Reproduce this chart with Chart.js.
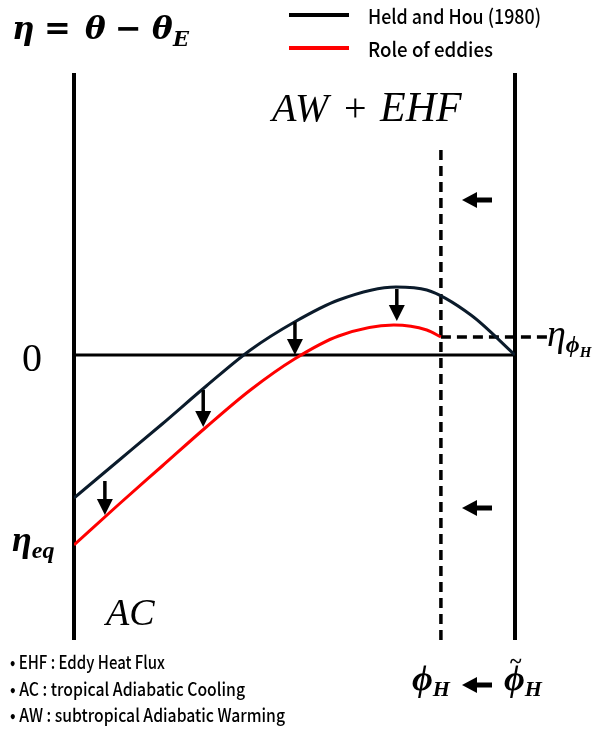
<!DOCTYPE html>
<html>
<head>
<meta charset="utf-8">
<script src="https://cdn.jsdelivr.net/npm/chart.js@4"></script>
<style>
  html, body { margin: 0; padding: 0; background: #fff; }
  #wrap { width: 603px; height: 732px; }
</style>
</head>
<body>
<div id="wrap"><canvas id="chart" width="603" height="732"></canvas></div>
<script>
// latitude-like position (0 = equator axis, 100 = phi_H tilde) and eta in schematic units
const heldHouX = [0, 10, 20, 30, 40, 50, 60, 73, 80, 90, 100]
const heldHouY = [-143, -106, -69, -31, 5, 33, 55, 68, 65, 40, 0]
const eddiesX = [0, 10, 20, 30, 40, 50, 60, 72.5, 80, 83.2]
const eddiesY = [-190, -150, -111, -72, -35, -4, 19, 30, 25, 18]

// down arrows (eddy effect) from Held-Hou curve to the eddy curve
const arrowX = [7, 29.3, 50.1, 73.2]
const arrowTop = [-126, -35, 33, 66]
const arrowBottom = [-160, -72, 0, 34]

const phiH = 83.2          // new Hadley edge (dashed line)
const phiHTilde = 100      // Held and Hou edge
const etaPhiH = 18
const yMin = -285
const yMax = 282

const toPts = (xs, ys) => xs.map((x, i) => ({ x: x, y: ys[i] }))

const serif = "'Liberation Serif', 'DejaVu Serif', serif"
const dvSerif = "'DejaVu Serif', serif"
const sans = "'Noto Sans CJK KR', 'Noto Sans', sans-serif"

function put(ctx, text, font, x, y) {
  ctx.font = font
  ctx.fillText(text, x, y)
  return x + ctx.measureText(text).width
}

function leftArrow(ctx, x1, x2, y) {
  ctx.lineWidth = 5
  ctx.beginPath()
  ctx.moveTo(x2, y)
  ctx.lineTo(x1 + 10, y)
  ctx.stroke()
  ctx.beginPath()
  ctx.moveTo(x1, y)
  ctx.lineTo(x1 + 15, y - 8)
  ctx.lineTo(x1 + 15, y + 8)
  ctx.closePath()
  ctx.fill()
}

const schematic = {
  id: "schematic",
  beforeDatasetsDraw(chart) {
    const ctx = chart.ctx
    const xs = chart.scales.x
    const ys = chart.scales.y
    const left = xs.getPixelForValue(0)
    const right = xs.getPixelForValue(phiHTilde)
    const dash = xs.getPixelForValue(phiH)
    const zero = ys.getPixelForValue(0)
    ctx.save()
    ctx.strokeStyle = "#000"
    // vertical axes
    ctx.lineWidth = 4
    ctx.beginPath()
    ctx.moveTo(left, ys.getPixelForValue(yMax))
    ctx.lineTo(left, ys.getPixelForValue(yMin))
    ctx.moveTo(right, ys.getPixelForValue(yMax))
    ctx.lineTo(right, ys.getPixelForValue(yMin))
    ctx.stroke()
    // zero line
    ctx.lineWidth = 3
    ctx.beginPath()
    ctx.moveTo(left, zero)
    ctx.lineTo(right, zero)
    ctx.stroke()
    // dashed phi_H lines
    ctx.setLineDash([10, 6])
    ctx.lineWidth = 3.5
    ctx.beginPath()
    ctx.moveTo(dash, ys.getPixelForValue(205))
    ctx.lineTo(dash, ys.getPixelForValue(yMin))
    ctx.stroke()
    ctx.beginPath()
    ctx.moveTo(dash, ys.getPixelForValue(etaPhiH))
    ctx.lineTo(right + 32, ys.getPixelForValue(etaPhiH))
    ctx.stroke()
    ctx.restore()
  },
  afterDatasetsDraw(chart) {
    const ctx = chart.ctx
    const xs = chart.scales.x
    const ys = chart.scales.y
    ctx.save()
    ctx.fillStyle = "#000"
    ctx.strokeStyle = "#000"
    // down arrows
    arrowX.forEach((v, i) => {
      const px = xs.getPixelForValue(v)
      const t = ys.getPixelForValue(arrowTop[i])
      const b = ys.getPixelForValue(arrowBottom[i])
      ctx.lineWidth = 3.5
      ctx.beginPath()
      ctx.moveTo(px, t)
      ctx.lineTo(px, b - 14)
      ctx.stroke()
      ctx.beginPath()
      ctx.moveTo(px, b)
      ctx.lineTo(px - 8, b - 16)
      ctx.lineTo(px + 8, b - 16)
      ctx.closePath()
      ctx.fill()
    })
    // small left arrows between phi_H and phi_H tilde
    leftArrow(ctx, 462, 492, 200)
    leftArrow(ctx, 462, 492, 508)

    ctx.textBaseline = "alphabetic"
    // title: eta = theta - theta_E
    const bi = "italic bold 31px " + dvSerif
    put(ctx, "\u03b7", bi, 12, 39)
    put(ctx, "=", "bold 32px 'DejaVu Sans'", 44, 39)
    put(ctx, "\u03b8", bi, 85, 39)
    put(ctx, "\u2212", "bold 32px 'DejaVu Sans'", 115, 39)
    put(ctx, "\u03b8", bi, 152, 39)
    put(ctx, "E", "italic bold 21px " + dvSerif, 173, 46)
    // AW + EHF
    const it = "italic 40px " + serif
    put(ctx, "AW", it, 272, 121)
    put(ctx, "+", "40px " + serif, 344, 121)
    put(ctx, "EHF", "italic 42px " + serif, 380, 121)
    // zero label
    put(ctx, "0", "40px " + serif, 22, 371)
    // eta_phiH
    let cx = put(ctx, "\u03b7", "italic 38px " + serif, 547, 346)
    cx = put(ctx, "\u03d5", "italic bold 24px " + serif, cx, 352)
    put(ctx, "H", "italic bold 15px " + serif, cx, 357)
    // eta_eq
    cx = put(ctx, "\u03b7", "italic bold 36px " + serif, 12, 551)
    put(ctx, "eq", "italic bold 24px " + serif, cx, 558)
    // AC
    put(ctx, "AC", "italic 38px " + serif, 106, 625)
    // phi_H <- phi_H tilde
    cx = put(ctx, "\u03d5", "italic bold 36px " + serif, 412, 690)
    put(ctx, "H", "italic bold 22px " + serif, cx, 696)
    leftArrow(ctx, 462, 492, 685)
    cx = put(ctx, "\u03d5", "italic bold 36px " + serif, 504, 690)
    put(ctx, "H", "italic bold 22px " + serif, cx, 696)
    put(ctx, "~", "bold 22px " + serif, 510, 668)

    // legend
    ctx.lineWidth = 4
    ctx.strokeStyle = "#000"
    ctx.beginPath()
    ctx.moveTo(289, 15)
    ctx.lineTo(349, 15)
    ctx.stroke()
    ctx.strokeStyle = "#ff0000"
    ctx.beginPath()
    ctx.moveTo(289, 48)
    ctx.lineTo(349, 48)
    ctx.stroke()
    ctx.font = "500 20px " + sans
    ctx.textBaseline = "middle"
    ctx.fillText("Held and Hou (1980)", 368, 16, 173)
    ctx.fillText("Role of eddies", 368, 49, 125)

    // footnotes
    ctx.font = "500 18px " + sans
    ctx.fillText("\u2022 EHF : Eddy Heat Flux", 10, 662, 155)
    ctx.fillText("\u2022 AC : tropical Adiabatic Cooling", 10, 689, 235)
    ctx.fillText("\u2022 AW : subtropical Adiabatic Warming", 10, 715, 275)
    ctx.restore()
  }
}

new Chart(document.getElementById("chart"), {
  type: "line",
  data: {
    datasets: [
      {
        label: "Held and Hou (1980)",
        data: toPts(heldHouX, heldHouY),
        borderColor: "#0b1b2b",
        borderWidth: 3,
        pointRadius: 0,
        cubicInterpolationMode: "monotone",
        fill: false
      },
      {
        label: "Role of eddies",
        data: toPts(eddiesX, eddiesY),
        borderColor: "#ff0000",
        borderWidth: 3,
        pointRadius: 0,
        cubicInterpolationMode: "monotone",
        fill: false
      }
    ]
  },
  options: {
    responsive: false,
    animation: false,
    layout: { padding: { left: 74, right: 88, top: 73, bottom: 92 } },
    plugins: {
      legend: { display: false },
      tooltip: { enabled: false }
    },
    scales: {
      x: { type: "linear", min: 0, max: 100, display: false },
      y: { type: "linear", min: yMin, max: yMax, display: false }
    }
  },
  plugins: [schematic]
})
</script>
</body>
</html>
